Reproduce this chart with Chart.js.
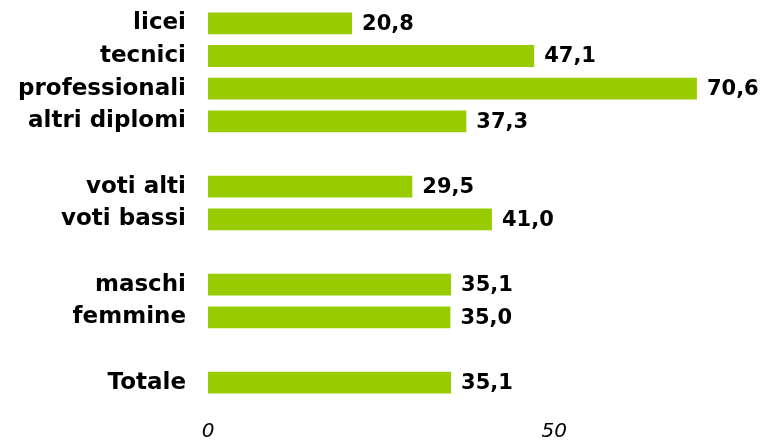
<!DOCTYPE html>
<html><head><meta charset="utf-8">
<script src="https://cdn.jsdelivr.net/npm/chart.js@4.4.1/dist/chart.umd.min.js"></script>
<style>html,body{margin:0;padding:0;background:#fff}#wrap{width:762px;height:441px}</style>
</head><body><div id="wrap"><canvas id="c" width="762" height="441"></canvas></div>
<script>
const categories = ['licei','tecnici','professionali','altri diplomi','','voti alti','voti bassi','','maschi','femmine','','Totale'];
const values = [20.8, 47.1, 70.6, 37.3, null, 29.5, 41.0, null, 35.1, 35.0, null, 35.1];
const tickValues = [0, 50];
const FAM = '"DejaVu Sans", Verdana, sans-serif';

const valueLabels = {
  id: 'valueLabels',
  afterDatasetsDraw(chart) {
    const ctx = chart.ctx;
    const meta = chart.getDatasetMeta(0);
    ctx.save();
    ctx.font = 'bold 21px ' + FAM;
    ctx.fillStyle = '#000';
    ctx.textAlign = 'left';
    ctx.textBaseline = 'middle';
    meta.data.forEach((bar, i) => {
      const v = values[i];
      if (v === null) return;
      ctx.fillText(v.toFixed(1).replace('.', ','), bar.x + 10, bar.y + 1);
    });
    ctx.restore();
  }
};

new Chart(document.getElementById('c'), {
  type: 'bar',
  data: { labels: categories, datasets: [{ data: values, backgroundColor: '#99cc00', categoryPercentage: 1, barPercentage: 0.67 }] },
  options: {
    indexAxis: 'y', responsive: false, animation: false,
    layout: { padding: { top: 7, right: 0, left: 0, bottom: 0 } },
    plugins: { legend: { display: false }, tooltip: { enabled: false } },
    scales: {
      x: {
        min: 0, max: 80,
        grid: { display: false, drawTicks: false }, border: { display: false },
        afterBuildTicks(s) { s.ticks = tickValues.map(v => ({ value: v })); },
        afterFit(s) { s.height = 42; s.paddingLeft = 0; s.paddingRight = 0; },
        ticks: { padding: 21, color: '#000', maxRotation: 0, font: { family: FAM, size: 20, style: 'italic' } }
      },
      y: {
        grid: { display: false, drawTicks: false }, border: { display: false },
        afterFit(s) { s.width = 208; s.paddingTop = 0; s.paddingBottom = 0; },
        ticks: { padding: 22, color: '#000', autoSkip: false, font: { family: FAM, size: 23, weight: 'bold' } }
      }
    }
  },
  plugins: [valueLabels]
});
</script></body></html>
